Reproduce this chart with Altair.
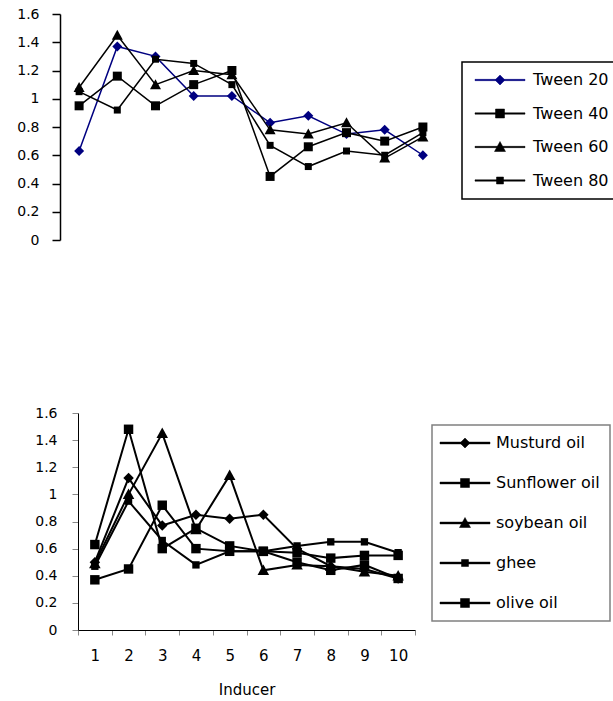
import altair as alt
import pandas as pd

# ---------------- data ----------------
inducer = [1, 2, 3, 4, 5, 6, 7, 8, 9, 10]

top_series = ["Tween 20", "Tween 40", "Tween 60", "Tween 80"]
tween20 = [0.63, 1.37, 1.30, 1.02, 1.02, 0.83, 0.88, 0.75, 0.78, 0.60]
tween40 = [0.95, 1.16, 0.95, 1.10, 1.20, 0.45, 0.66, 0.76, 0.70, 0.80]
tween60 = [1.08, 1.45, 1.10, 1.20, 1.17, 0.78, 0.75, 0.83, 0.58, 0.73]
tween80 = [1.05, 0.92, 1.28, 1.25, 1.10, 0.67, 0.52, 0.63, 0.60, 0.76]

bottom_series = ["Musturd oil", "Sunflower oil", "soybean oil", "ghee", "olive oil"]
musturd = [0.50, 1.12, 0.77, 0.85, 0.82, 0.85, 0.60, 0.47, 0.45, 0.38]
sunflower = [0.37, 0.45, 0.92, 0.60, 0.58, 0.58, 0.57, 0.53, 0.55, 0.55]
soybean = [0.49, 1.00, 1.45, 0.74, 1.14, 0.44, 0.48, 0.47, 0.43, 0.40]
ghee = [0.47, 0.95, 0.66, 0.48, 0.58, 0.58, 0.62, 0.65, 0.65, 0.57]
olive = [0.63, 1.48, 0.60, 0.75, 0.62, 0.58, 0.50, 0.44, 0.48, 0.38]

y_ticks = [0, 0.2, 0.4, 0.6, 0.8, 1.0, 1.2, 1.4, 1.6]


def long_table(names, columns):
    rows = []
    for name, vals in zip(names, columns):
        for i, v in zip(inducer, vals):
            rows.append({"series": name, "Inducer": i, "value": v})
    return pd.DataFrame(rows)


top_df = long_table(top_series, [tween20, tween40, tween60, tween80])
bot_df = long_table(bottom_series, [musturd, sunflower, soybean, ghee, olive])

# ---------------- styles ----------------
FONT = "DejaVu Sans"
NAVY = "#000080"
top_colors = [NAVY, "black", "black", "black"]
bot_colors = ["black"] * 5

DIAMOND = "M0,-1L1,0L0,1L-1,0Z"
SQUARE = "M-0.9,-0.9L0.9,-0.9L0.9,0.9L-0.9,0.9Z"
SQUARE_S = "M-0.7,-0.7L0.7,-0.7L0.7,0.7L-0.7,0.7Z"
TRIANGLE = "M0,-1.1L1.1,0.9L-1.1,0.9Z"


def bar(h):
    # thin filled bar drawn as the legend's line sample
    return "M-5,-%sL5,-%sL5,%sL-5,%sZ" % (h, h, h, h)


top_shapes = [DIAMOND, SQUARE, TRIANGLE, SQUARE_S]
bot_shapes = [DIAMOND, SQUARE, TRIANGLE, SQUARE_S, SQUARE]


def pick_expr(names, values):
    nm = "[" + ",".join("'%s'" % n for n in names) + "]"
    vs = "[" + ",".join("'%s'" % v for v in values) + "]"
    return {"expr": "%s[indexof(%s, datum.value)]" % (vs, nm)}


def make_legend(names, colors, shapes, lx, ly, row_pad, border_color, sym_off, lab_off, lw):
    return alt.Legend(
        title=None,
        orient="none",
        legendX=lx,
        legendY=ly,
        symbolType=pick_expr(names, [bar(lw) + s for s in shapes]),
        symbolFillColor=pick_expr(names, colors),
        symbolStrokeColor=pick_expr(names, colors),
        symbolSize=100,
        symbolStrokeWidth=0.5,
        symbolOffset=sym_off,
        labelOffset=lab_off,
        labelFont=FONT,
        labelFontSize=16,
        labelColor="black",
        rowPadding=row_pad,
        padding=10,
        strokeColor=border_color,
        labelLimit=300,
    )


# ---------------- top panel ----------------
top_x = alt.X(
    "Inducer:O",
    scale=alt.Scale(type="point", padding=0.5, range=[0, 382]),
    axis=None,
)
top_y = alt.Y(
    "value:Q",
    scale=alt.Scale(domain=[0, 1.6], range=[226, 0], nice=False),
    axis=alt.Axis(
        orient="left",
        values=y_ticks,
        format=".1~f",
        title=None,
        domainColor="black",
        domainWidth=1.5,
        tickColor="black",
        tickSize=8,
        tickWidth=1.5,
        labelFont=FONT,
        labelFontSize=14,
        labelColor="black",
        labelPadding=13,
        grid=False,
    ),
)
top_color_scale = alt.Scale(domain=top_series, range=top_colors)

top_lines = alt.Chart(top_df).mark_line(strokeWidth=1.5).encode(
    x=top_x,
    y=top_y,
    color=alt.Color(
        "series:N",
        scale=top_color_scale,
        legend=make_legend(top_series, top_colors, top_shapes, 402, 48, 17.5, "black", 20, 25, 0.13),
    ),
)
top_points = (
    alt.Chart(top_df)
    .transform_calculate(marker="datum.series")
    .mark_point(filled=True, opacity=1, size=100, strokeWidth=0)
    .encode(
        x=top_x,
        y=top_y,
        fill=alt.Fill("marker:N", scale=alt.Scale(domain=top_series, range=top_colors), legend=None),
        shape=alt.Shape("marker:N", scale=alt.Scale(domain=top_series, range=top_shapes), legend=None),
    )
)
top_layer = alt.layer(top_lines, top_points).resolve_scale(fill="independent", shape="independent")

# ---------------- bottom panel ----------------
bot_x = alt.X(
    "Inducer:O",
    scale=alt.Scale(type="band", paddingInner=0, paddingOuter=0, range=[18, 355]),
    axis=alt.Axis(
        orient="bottom",
        title="Inducer",
        titleFont=FONT,
        titleFontSize=15,
        titleFontWeight="normal",
        titleColor="black",
        titlePadding=19,
        labelAngle=0,
        labelFont=FONT,
        labelFontSize=15,
        labelColor="black",
        labelPadding=13,
        domainColor="black",
        tickColor="#888888",
        tickSize=5,
        tickBand="extent",
    ),
)
bot_y = alt.Y(
    "value:Q",
    scale=alt.Scale(domain=[0, 1.6], range=[616, 399], nice=False),
    axis=alt.Axis(
        orient="left",
        offset=-18,
        values=y_ticks,
        format=".1~f",
        title=None,
        domainColor="black",
        tickColor="#888888",
        tickSize=6,
        labelFont=FONT,
        labelFontSize=14,
        labelColor="black",
        labelPadding=15,
        grid=False,
    ),
)
bot_color_scale = alt.Scale(domain=bottom_series, range=bot_colors)

bot_lines = alt.Chart(bot_df).mark_line(strokeWidth=2).encode(
    x=bot_x,
    y=bot_y,
    color=alt.Color(
        "series:N",
        scale=bot_color_scale,
        legend=make_legend(bottom_series, bot_colors, bot_shapes, 372, 411, 24, "#808080", 15, 23, 0.18),
    ),
)
bot_points = (
    alt.Chart(bot_df)
    .transform_calculate(marker="datum.series")
    .mark_point(filled=True, opacity=1, size=110, strokeWidth=0, color="black")
    .encode(
        x=bot_x,
        y=bot_y,
        shape=alt.Shape("marker:N", scale=alt.Scale(domain=bottom_series, range=bot_shapes), legend=None),
    )
)
bot_layer = alt.layer(bot_lines, bot_points).resolve_scale(shape="independent")

chart = (
    alt.layer(top_layer, bot_layer)
    .resolve_scale(x="independent", y="independent", color="independent", shape="independent",
                   fill="independent")
    .resolve_axis(x="independent", y="independent")
    .resolve_legend(color="independent", shape="independent", fill="independent")
    .properties(
        width=382,
        height=616,
        padding={"left": 60, "top": 14, "right": 171, "bottom": 71},
        autosize=alt.AutoSizeParams(type="none"),
        background="white",
    )
    .configure_view(stroke=None)
    .configure_legend(strokeWidth=1.5)
)

chart.save("out.html", embed_options={"renderer": "svg", "actions": False})
